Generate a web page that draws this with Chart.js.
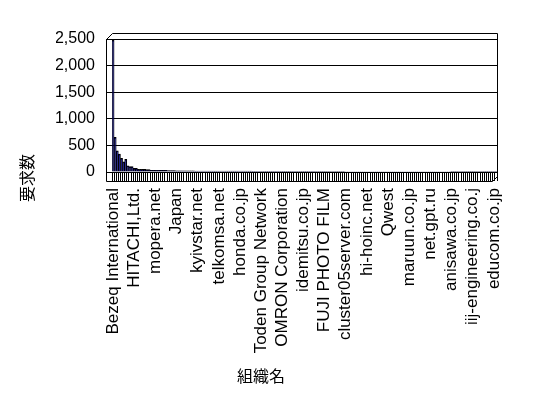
<!DOCTYPE html>
<html>
<head>
<meta charset="utf-8">
<script src="https://cdn.jsdelivr.net/npm/chart.js@4.4.1/dist/chart.umd.min.js"></script>
<style>
  html, body { margin: 0; padding: 0; background: #fff; }
</style>
</head>
<body>
<canvas id="chartOrg" width="548" height="398"></canvas>
<script>
// nombres visibles (uno cada 10 categorias)
const shownLabels = [
  'Bezeq International', 'HITACHI,Ltd.', 'mopera.net', 'Japan', 'kyivstar.net',
  'telkomsa.net', 'honda.co.jp', 'Toden Group Network', 'OMRON Corporation', 'idemitsu.co.jp',
  'FUJI PHOTO FILM', 'cluster05server.com', 'hi-hoinc.net', 'Qwest', 'maruun.co.jp',
  'net.gpt.ru', 'anisawa.co.jp', 'iij-engineering.co.j', 'educom.co.jp'
]

const requestCounts = [
  2480, 650, 400, 335, 255, 190, 236, 117, 100, 100,
  68, 68, 50, 50, 50, 48, 47, 46, 33, 32,
  32, 31, 31, 30, 30, 30, 29, 29, 28, 28,
  22, 22, 21, 21, 21, 20, 20, 20, 20, 19,
  19, 19, 19, 18, 18, 18, 18, 18, 17, 17,
  17, 17, 17, 16, 16, 16, 16, 16, 16, 15,
  15, 15, 15, 15, 15, 15, 14, 14, 14, 14,
  14, 14, 14, 14, 13, 13, 13, 13, 13, 13,
  13, 13, 12, 12, 12, 12, 12, 12, 12, 12,
  12, 12, 12, 12, 12, 12, 11, 11, 11, 11,
  11, 11, 11, 11, 11, 11, 11, 11, 11, 11,
  10, 10, 10, 10, 10, 10, 10, 10, 10, 10,
  10, 10, 10, 10, 10, 10, 10, 10, 10, 10,
  9, 9, 9, 9, 9, 9, 9, 9, 9, 9,
  9, 9, 9, 9, 9, 9, 9, 9, 9, 9,
  9, 9, 9, 9, 9, 9, 9, 9, 9, 9,
  8, 8, 8, 8, 8, 8, 8, 8, 8, 8,
  8, 8, 8, 8, 8, 8, 8, 8, 8, 8,
  8, 8
]

const yMax = 2500
const yStep = 500
const yTitle = '要求数'
const xTitle = '組織名'

const categories = requestCounts.map((v, i) => i % 10 === 0 ? shownLabels[i / 10] : '')

// marco 3D y titulos
const frameTitles = {
  id: 'frameTitles',
  afterDraw(chart) {
    const { ctx, chartArea: a } = chart
    const d = 6
    const L = Math.round(a.left) - d + 0.5
    const T = Math.round(a.top) + 0.5
    const R = Math.round(a.right) + 0.5
    const B = Math.round(a.bottom) + 9 + 0.5
    ctx.save()
    ctx.strokeStyle = '#000'
    ctx.lineWidth = 1
    ctx.beginPath()
    ctx.moveTo(L, T); ctx.lineTo(L, B)
    ctx.moveTo(L, T); ctx.lineTo(L + d, T - d); ctx.lineTo(R, T - d)
    ctx.lineTo(R, B - 5); ctx.lineTo(R - 5, B); ctx.lineTo(L, B)
    ctx.stroke()

    ctx.fillStyle = '#000'
    ctx.font = '16px "Noto Sans CJK JP"'
    ctx.textAlign = 'center'
    ctx.textBaseline = 'middle'
    ctx.fillText(xTitle, 261, 376)
    ctx.translate(27, 178)
    ctx.rotate(-Math.PI / 2)
    ctx.fillText(yTitle, 0, 0)
    ctx.restore()
  }
}

const chartOrg = new Chart(document.getElementById('chartOrg'), {
  type: 'bar',
  data: {
    labels: categories,
    datasets: [{
      label: yTitle,
      data: requestCounts,
      backgroundColor: '#000080',
      borderColor: '#000000',
      borderWidth: 1,
      borderSkipped: 'bottom',
      barPercentage: 1,
      categoryPercentage: 1
    }]
  },
  options: {
    responsive: false,
    animation: false,
    locale: 'en-US',
    layout: { padding: { left: 56, right: 51, top: 39, bottom: 0 } },
    plugins: {
      legend: { display: false },
      tooltip: { enabled: false }
    },
    scales: {
      x: {
        border: { display: false },
        grid: {
          display: true,
          drawOnChartArea: false,
          drawTicks: true,
          tickLength: 9,
          color: '#000'
        },
        ticks: {
          autoSkip: false,
          minRotation: 90,
          maxRotation: 90,
          padding: 7,
          color: '#000',
          font: { family: '"Liberation Sans"', size: 17 }
        },
        afterFit(scale) { scale.height = 226 }
      },
      y: {
        min: 0,
        max: yMax,
        border: { display: false },
        grid: {
          color: '#000',
          tickLength: 6,
          tickColor: '#000'
        },
        ticks: {
          stepSize: yStep,
          padding: 11,
          color: '#000',
          font: { family: '"Liberation Sans"', size: 16 }
        },
        afterFit(scale) { scale.width = 56 }
      }
    }
  },
  plugins: [frameTitles]
})
</script>
</body>
</html>
